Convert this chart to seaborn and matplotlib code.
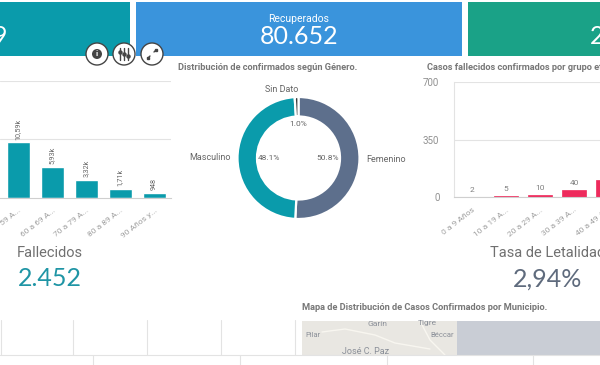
import matplotlib
matplotlib.use("Agg")
import matplotlib.pyplot as plt
from matplotlib.patches import Rectangle, Circle
import seaborn as sns
import pandas as pd

# ---- data ----
edad_conf = ["50 a 59 A...", "60 a 69 A...", "70 a 79 A...", "80 a 89 A...", "90 Años y..."]
conf_vals = [10590, 5930, 3320, 1710, 948]
conf_labels = ["10,59k", "5,93k", "3,32k", "1,71k", "948"]
edad_fall = ["0 a 9 Años", "10 a 19 A...", "20 a 29 A...", "30 a 39 A...", "40 a 49 A..."]
fall_vals = [2, 5, 10, 40, 105]
fall_labels = ["2", "5", "10", "40", "105"]
genero = ["Femenino", "Masculino", "Sin Dato"]
genero_vals = [50.8, 48.1, 1.0]
genero_labels = ["50.8%", "48.1%", "1.0%"]
fall_ticks = [0, 350, 700]

TEAL, BLUE, GREEN = "#0a9bab", "#3a94dc", "#1aa287"
SLATE, RED, DARK = "#5d6f8c", "#ee2a5c", "#3c3c3c"
GREY, LINE = "#777777", "#e3e3e3"
W, H = 600, 365

sns.set_theme(style="white")
plt.rcParams["font.family"] = ["Roboto", "DejaVu Sans"]
BIG = dict(family="Lato", fontweight="normal")

fig = plt.figure(figsize=(6.0, 3.65), dpi=100, facecolor="white")

def box(x0, y0, x1, y1):
    return [x0 / W, 1 - y1 / H, (x1 - x0) / W, (y1 - y0) / H]

# ---- page overlay in pixel coordinates (panels, texts, map) ----
bg = fig.add_axes([0, 0, 1, 1], zorder=0)
bg.set_xlim(0, W); bg.set_ylim(H, 0); bg.axis("off")
for x0, x1, c in [(-5, 130, TEAL), (136, 462, BLUE), (468, 605, GREEN)]:
    bg.add_patch(Rectangle((x0, 2), x1 - x0, 54, color=c, lw=0))
bg.text(299, 19, "Recuperados", color="white", fontsize=7.5, ha="center", va="center")
bg.text(299, 36, "80.652", color="white", fontsize=18, ha="center", va="center", **BIG)
bg.text(0, 36, "9", color="white", fontsize=18, ha="center", va="center", **BIG)
bg.text(597, 36, "2", color="white", fontsize=18, ha="center", va="center", **BIG)

for txt, x, y in [("Distribución de confirmados según Género.", 178, 68),
                  ("Casos fallecidos confirmados por grupo etario.", 427, 68),
                  ("Mapa de Distribución de Casos Confirmados por Municipio.", 302, 308)]:
    bg.text(x, y, txt, color=GREY, fontsize=6.7, fontweight="bold", ha="left", va="center")

bg.text(50, 253, "Fallecidos", color="#707070", fontsize=10.5, ha="center", va="center")
bg.text(50, 279, "2.452", color="#1f95a5", fontsize=18, ha="center", va="center", **BIG)
bg.text(548, 253, "Tasa de Letalidad", color="#707070", fontsize=10.5, ha="center", va="center")
bg.text(548, 279, "2,94%", color="#5f6b7d", fontsize=18, ha="center", va="center", **BIG)

# map
bg.add_patch(Rectangle((302, 321), 155, 34, color="#e9e7e2", lw=0))
bg.add_patch(Rectangle((457, 321), 145, 34, color="#c9cdd5", lw=0))
bg.plot([322, 345, 375, 395, 430], [332, 329, 335, 343, 349], color="#f8f6f0", lw=1)
bg.plot([420, 430, 445], [321, 340, 355], color="#f8f6f0", lw=1)
for t, x, y, s in [("Garín", 377, 324, 6), ("Tigre", 427, 323, 6), ("Pilar", 313, 335, 5.5),
                   ("Béccar", 442, 335, 5.5), ("José C. Paz", 365, 351, 6.5)]:
    bg.text(x, y, t, color="#8a8f98", fontsize=s, ha="center", va="center")

# table lines
bg.plot([0, 600], [354.5, 354.5], color=LINE, lw=0.8)
for x in [0.5, 73, 147, 221, 295]:
    bg.plot([x, x], [320, 354.5], color=LINE, lw=0.8)
for x in [93, 240, 387, 533]:
    bg.plot([x, x], [354.5, 365], color=LINE, lw=0.8)

TICK = dict(rotation=38, ha="right", rotation_mode="anchor", fontsize=6, color="#a0a0a0")

# ---- left bars ----
ax1 = fig.add_axes(box(0, 81, 171, 197.5), zorder=1, facecolor="none")
df1 = pd.DataFrame({"edad": edad_conf, "casos": conf_vals})
sns.barplot(data=df1, x="edad", y="casos", color=TEAL, saturation=1, width=0.7, ax=ax1)
ax1.set_xlim(-0.544, 4.485)
ax1.set_ylim(0, 22400)
ax1.set_yticks([11200, 22400])
ax1.tick_params(axis="y", left=False, labelleft=False)
ax1.grid(axis="y", color=LINE, lw=0.8)
ax1.set_axisbelow(True)
ax1.set(xlabel="", ylabel="")
for s in ["top", "left", "right"]:
    ax1.spines[s].set_visible(False)
ax1.spines["bottom"].set_color("#cfcfcf")
ax1.spines["bottom"].set_linewidth(0.8)
ax1.tick_params(axis="x", bottom=False, pad=1)
ax1.set_xticks(range(len(edad_conf)))
ax1.set_xticklabels(edad_conf, **TICK)
for i, (v, l) in enumerate(zip(conf_vals, conf_labels)):
    ax1.annotate(l, (i, v), xytext=(0, 2), textcoords="offset points", rotation=90,
                 ha="center", va="bottom", fontsize=5.2, color="#666666")

# ---- right bars (axis runs past the figure edge, as in the cropped screenshot) ----
ax2 = fig.add_axes(box(454, 82, 700, 197), zorder=1, facecolor="none")
df2 = pd.DataFrame({"edad": edad_fall, "casos": fall_vals})
sns.barplot(data=df2, x="edad", y="casos", color=RED, saturation=1, width=0.7,
            edgecolor=RED, linewidth=0.5, ax=ax2)
ax2.set_xlim(-0.53, 6.7)
ax2.set_ylim(0, 700)
ax2.set_yticks(fall_ticks)
ax2.set_yticklabels([str(t) for t in fall_ticks], fontsize=7, color="#909090")
ax2.tick_params(axis="y", left=False, pad=4.5)
ax2.grid(axis="y", color=LINE, lw=0.8)
ax2.set_axisbelow(True)
ax2.set(xlabel="", ylabel="")
for s in ["top", "right"]:
    ax2.spines[s].set_visible(False)
ax2.spines["left"].set_color(LINE); ax2.spines["left"].set_linewidth(0.8)
ax2.spines["bottom"].set_color("#cfcfcf"); ax2.spines["bottom"].set_linewidth(0.8)
ax2.tick_params(axis="x", bottom=False, pad=1)
ax2.set_xticks(range(len(edad_fall)))
ax2.set_xticklabels(edad_fall, **TICK)
for i, (v, l) in enumerate(zip(fall_vals, fall_labels)):
    ax2.annotate(l, (i, v), xytext=(0, 3), textcoords="offset points",
                 ha="center", va="bottom", fontsize=6, color="#808080")

# ---- donut ----
R = 61
ax3 = fig.add_axes(box(298.5 - R, 158 - R, 298.5 + R, 158 + R), zorder=1, facecolor="none")
ax3.pie(genero_vals, colors=[SLATE, TEAL, DARK], startangle=90, counterclock=False, radius=1,
        wedgeprops=dict(width=19.5 / R, edgecolor="white", linewidth=1.6))
ax3.set_xlim(-1, 1); ax3.set_ylim(-1, 1)
bg.text(328, 158, genero_labels[0], fontsize=6, color="#666666", ha="center", va="center")
bg.text(269.5, 158, genero_labels[1], fontsize=6, color="#666666", ha="center", va="center")
bg.text(298, 124, genero_labels[2], fontsize=6, color="#666666", ha="center", va="center")
bg.text(386, 159, genero[0], fontsize=6.5, color="#666666", ha="center", va="center")
bg.text(210, 158, genero[1], fontsize=6.5, color="#666666", ha="center", va="center")
bg.text(282, 89, genero[2], fontsize=6.5, color="#666666", ha="center", va="center")

# ---- toolbar buttons ----
top = fig.add_axes([0, 0, 1, 1], zorder=3, facecolor="none")
top.set_xlim(0, W); top.set_ylim(H, 0); top.axis("off")
for x in [97, 124, 152]:
    top.add_patch(Circle((x, 54), 11, facecolor="white", edgecolor="#444444", lw=1))
top.add_patch(Circle((97, 54), 5, color="#444444", lw=0))
top.text(97, 54, "i", color="white", fontsize=6, fontweight="bold", ha="center", va="center")
for x in [120, 124, 128]:
    top.plot([x, x], [48, 60], color="#444444", lw=1)
    top.plot([x], [54 + (x - 124) / 2], "o", color="#444444", ms=2.2)
top.plot([148, 150], [58, 56], color="#444444", lw=1)
top.plot([154, 156], [52, 50], color="#444444", lw=1)
top.plot([148], [58], "s", color="#444444", ms=1.5)
top.plot([156], [50], "s", color="#444444", ms=1.5)

fig.savefig("out.png", dpi=100)
